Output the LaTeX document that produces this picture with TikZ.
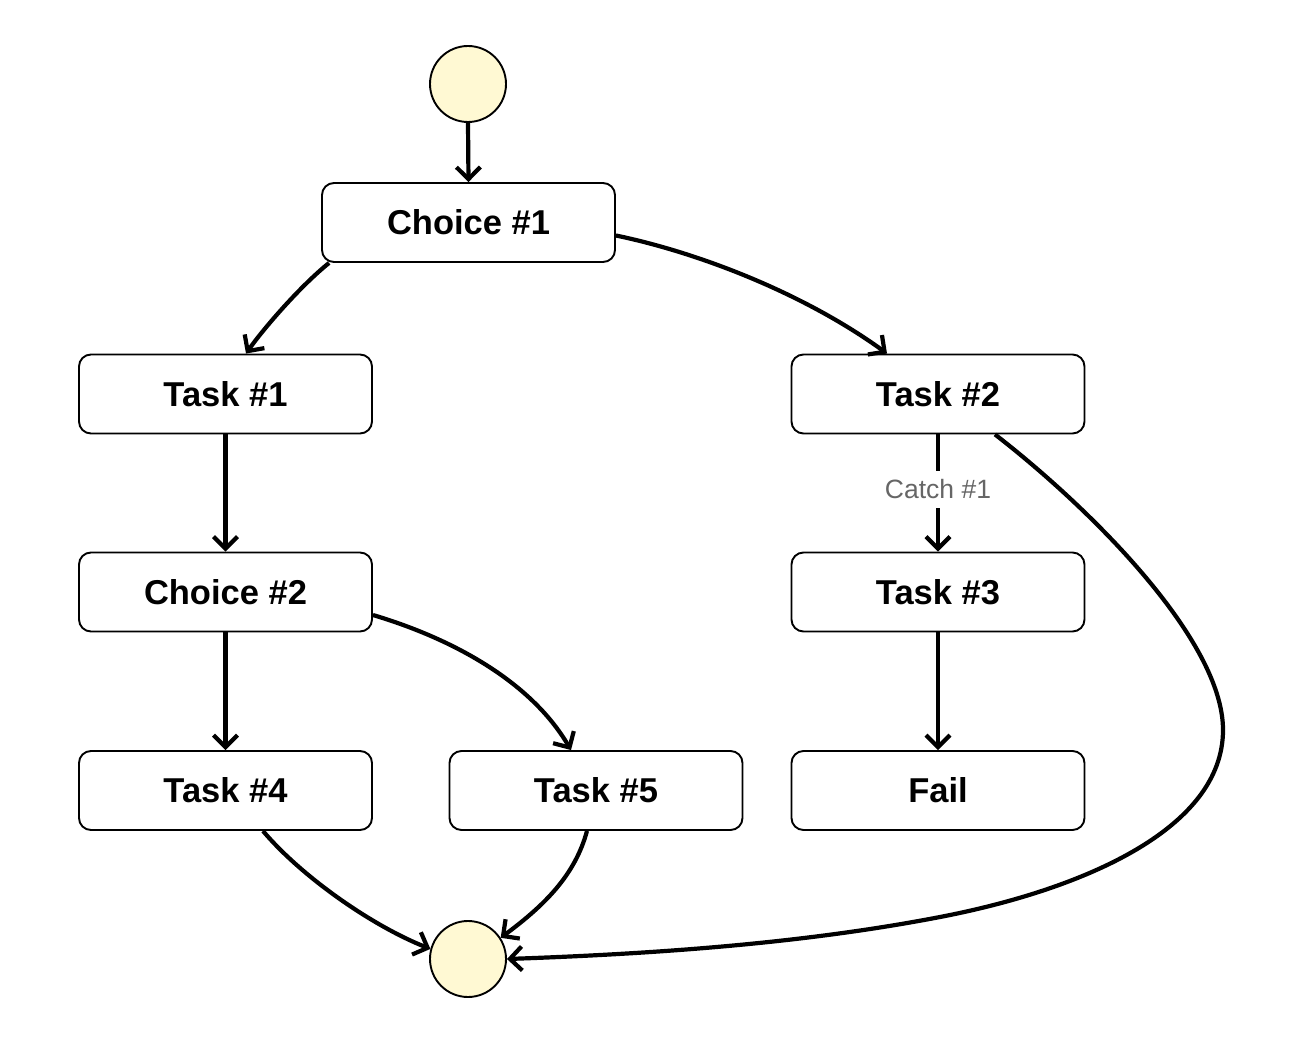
\documentclass[tikz,border=0pt]{standalone}
\usepackage{fontspec}
\setmainfont{Liberation Sans}
\usetikzlibrary{arrows.meta}
\definecolor{termfill}{RGB}{255,249,211}
\definecolor{labelgray}{RGB}{102,102,102}
\tikzset{
  statebox/.style={draw=black, line width=1.9pt, rounded corners=12pt, fill=white,
    minimum width=293pt, minimum height=79pt, inner sep=0pt,
    font=\fontsize{34.5}{40}\selectfont\bfseries},
  termcircle/.style={circle, draw=black, line width=1.9pt, fill=termfill,
    minimum size=76pt, inner sep=0pt},
  flow/.style={line width=4.2pt, -{Straight Barb[length=12pt,width=24pt]}},
  edgelabel/.style={fill=white, text=labelgray, inner xsep=2pt, inner ysep=9pt,
    font=\fontsize{26.5}{30}\selectfont}
}
\begin{document}
\begin{tikzpicture}[x=1pt,y=-1pt]
\useasboundingbox (0,0) rectangle (1296,1040);
% nodes
\node[termcircle] (start) at (468,84) {};
\node[statebox] (c1) at (468.5,222.5) {Choice \#1};
\node[statebox] (t1) at (225.5,394) {Task \#1};
\node[statebox] (t2) at (938,394) {Task \#2};
\node[statebox] (c2) at (225.5,592) {Choice \#2};
\node[statebox] (t3) at (938,592) {Task \#3};
\node[statebox] (t4) at (225.5,790.5) {Task \#4};
\node[statebox] (t5) at (596,790.5) {Task \#5};
\node[statebox] (fail) at (938,790.5) {Fail};
\node[termcircle] (end) at (468,959) {};
% connectors
\draw[flow] (start.south) -- (c1.north);
\draw[flow] ([xshift=8pt]c1.south west) .. controls (298,288) and (261,332) .. ([xshift=20.5pt]t1.north);
\draw[flow] ([yshift=-13pt]c1.east) .. controls (700,253) and (805,294) .. ([xshift=-51pt]t2.north);
\draw[flow] (t1.south) -- (c2.north);
\draw[flow] (t2.south) -- node[edgelabel, pos=0.47] {Catch \#1} (t3.north);
\draw[flow] ([xshift=57pt]t2.south) .. controls (1090,508) and (1223,640) .. (1223,730)
  .. controls (1223,830) and (1080,890) .. (940,917)
  .. controls (800,944) and (650,954) .. (end.east);
\draw[flow] (c2.south) -- (t4.north);
\draw[flow] ([yshift=-23pt]c2.east) .. controls (450,638) and (530,680) .. ([xshift=-25pt]t5.north);
\draw[flow] (t3.south) -- (fail.north);
\draw[flow] ([xshift=37.5pt]t4.south) .. controls (300,875) and (370,925) .. (end.165);
\draw[flow] ([xshift=-9pt]t5.south) .. controls (575,875) and (545,905) .. (end.33);
\end{tikzpicture}
\end{document}
